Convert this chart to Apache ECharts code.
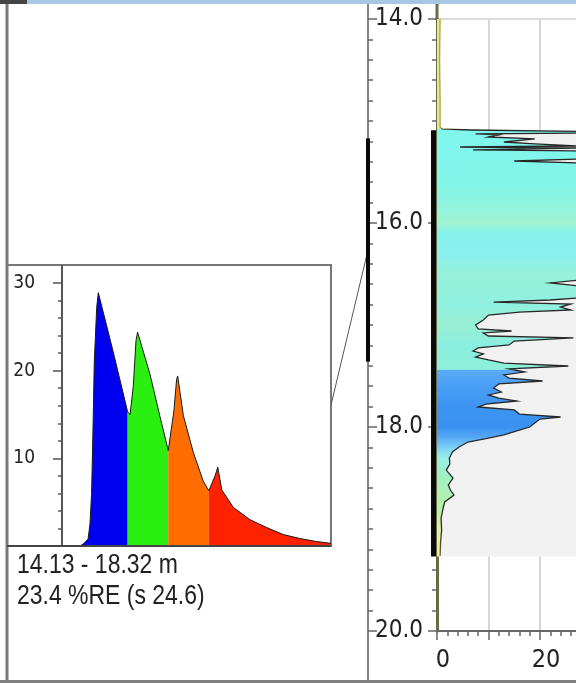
<!DOCTYPE html>
<html><head><meta charset="utf-8">
<script src="https://cdn.jsdelivr.net/npm/echarts@6/dist/echarts.min.js"></script>
<style>html,body{margin:0;padding:0;background:#fff;overflow:hidden}#c{width:576px;height:683px}</style>
</head><body><div id="c"></div>
<script>
const FONT = '"Liberation Sans Narrow","DejaVu Sans Condensed","Arial Narrow",sans-serif';
const FONT_TXT = '"Liberation Sans",Arial,sans-serif';

// ---------- Inset histogram ----------
const histX = [0, 6.7, 8.2, 9.7, 10.4, 11.0, 11.5, 12.0, 12.9, 13.5, 19.0, 24.4,
               25.3, 26.5, 27.5, 28.1, 32.7, 36.4, 39.5,
               40.1, 41.6, 42.6, 43.0, 45.1, 48.8, 52.5, 54.6,
               55.3, 56.9, 57.9, 59.4, 63.7, 69.9, 76.1, 82.3, 88.5, 94.7, 100];
const histY = [0, 0, 0.3, 0.8, 2.5, 6, 13, 21, 27.2, 28.9, 22.2, 15.3,
               15.0, 18.2, 23.4, 24.4, 19.6, 14.8, 10.9,
               10.8, 15.4, 19.0, 19.4, 14.9, 10.7, 7.4, 6.3,
               6.1, 8.0, 9.0, 6.4, 4.4, 3.0, 2.1, 1.3, 0.85, 0.5, 0.3];
const histBreaks = [0, 24.4, 39.5, 54.6, 100];
const histColors = ['#0000f0', '#2aef10', '#ff6c00', '#ff2200'];
const insetTickLabels = [10, 20, 30];
const insetText = ['14.13 - 18.32 m', '23.4 %RE (s 24.6)'];

// ---------- Depth profile ----------
const depth = [14.00, 14.40, 14.79, 15.059, 15.078, 15.088, 15.103, 15.118, 15.127, 15.137,
  15.157, 15.176, 15.206, 15.225, 15.245, 15.255, 15.265, 15.284, 15.294, 15.373, 15.392, 15.412,
  16.559, 16.588, 16.618, 16.735, 16.755, 16.775, 16.794, 16.824, 16.853, 16.873, 16.902, 16.951,
  17.000, 17.039, 17.059, 17.078, 17.108, 17.127, 17.157, 17.196, 17.225, 17.255, 17.284, 17.314,
  17.343, 17.373, 17.402, 17.431, 17.461, 17.490, 17.520, 17.549, 17.578, 17.618, 17.657, 17.686,
  17.716, 17.745, 17.775, 17.804, 17.833, 17.873, 17.902, 17.922, 17.961, 18.000, 18.039, 18.078,
  18.108, 18.147, 18.196, 18.245, 18.304, 18.363, 18.422, 18.500, 18.569, 18.618, 18.667, 18.735,
  18.794, 18.892, 19.010, 19.127, 19.265];
const value = [0.6, 0.5, 0.6, 0.6, 1.0, 6.5, 30, 30, 7.5, 12,
  10, 19, 13, 19, 30, 4.5, 30, 7, 30, 30, 15, 30,
  30, 22, 30, 30, 22, 11, 26, 24, 26, 16, 10, 9,
  7.5, 8, 14.5, 9, 10, 26.5, 15, 14, 8, 7, 9, 7.5,
  10, 13, 25.5, 14, 17, 13, 14, 20.5, 12, 11, 12.5, 10,
  12, 15.5, 9.5, 8, 15, 16, 24, 20, 19, 18, 15.5, 13,
  10, 6, 4.3, 3, 2.4, 2.5, 1.8, 3.1, 2.2, 2.6, 3.3, 1.5,
  1.2, 0.8, 0.9, 0.7, 0.6];
const depthLabels = [14, 16, 18, 20];
const xTickLabels = [0, 20];
const xMinorTicks = [2, 4, 6, 8, 12, 14, 16, 18, 22, 24, 26];
const dataRange = [15.09, 19.27];
const markerRange = [15.17, 17.36];
const fillDepths = [14.0, 15.07, 15.085, 15.6, 15.9, 16.0, 16.1, 16.3, 16.5, 16.8, 17.0, 17.2, 17.435,
  17.445, 17.6, 17.8, 18.0, 18.1, 18.2, 18.3, 18.5, 18.8, 19.0, 19.27];
const fillColors = ['#e6e88e', '#e6e88e', '#80f6ec', '#82f5ea', '#95f4da', '#a2f4cf', '#86f2ea', '#8af0f0',
  '#96f2d8', '#90f0e0', '#98f0d2', '#8aeee0', '#8ef0d8',
  '#5aaaf6', '#4a9ef5', '#3d95f2', '#3a90f0', '#55a8f5', '#7ccff5', '#98eee8', '#a2f0c2', '#b8f0a8', '#e0f0a0', '#eaf09a'];

const Y0 = depthLabels[0], Y1 = depthLabels[depthLabels.length - 1];

function histSeries() {
  const out = [];
  for (let k = 0; k < histBreaks.length - 1; k++) {
    const a = histBreaks[k], b = histBreaks[k + 1];
    const d = [];
    for (let i = 0; i < histX.length; i++) {
      if (histX[i] >= a && histX[i] <= b) d.push([histX[i], histY[i]]);
    }
    out.push({
      type: 'line', xAxisIndex: 0, yAxisIndex: 0, data: d, symbol: 'none', silent: true,
      lineStyle: { color: '#1a1a1a', width: 1 },
      areaStyle: { color: histColors[k], opacity: 1 }, z: 3
    });
  }
  return out;
}

function grad(y0, y1, depths, colors) {
  return {
    type: 'linear', x: 0, y: y0, x2: 0, y2: y1, global: true,
    colorStops: depths.map((d, i) => ({ offset: (d - Y0) / (Y1 - Y0), color: colors[i] }))
  };
}

function renderProfile(params, api) {
  const cs = params.coordSys;
  const xEdge = cs.x + cs.width + 3;
  const pts = [api.coord([0, depth[0]])];
  for (let i = 0; i < depth.length; i++) {
    const p = api.coord([value[i], depth[i]]);
    p[0] = Math.min(p[0], xEdge);
    pts.push(p);
  }
  pts.push(api.coord([0, depth[depth.length - 1]]));
  const ya = api.coord([0, Y0])[1], yb = api.coord([0, Y1])[1];
  const bgA = api.coord([0, dataRange[0]]), bgB = api.coord([0, dataRange[1]]);
  return {
    type: 'group',
    children: [
      { type: 'rect', shape: { x: bgA[0], y: bgA[1], width: xEdge - bgA[0], height: bgB[1] - bgA[1] },
        style: { fill: '#f1f1f1' } },
      { type: 'polygon', shape: { points: pts }, style: { fill: grad(ya, yb, fillDepths, fillColors), stroke: null } },
      { type: 'polyline', shape: { points: pts.slice(1, -1) },
        style: { fill: null, lineWidth: 1.3,
          stroke: grad(ya, yb, [14, 15.07, 15.08, 19.0, 19.27], ['#a4a444', '#a4a444', '#262626', '#2a2a2a', '#6a6a30']) } },
      { type: 'rect', shape: { x: bgA[0] - 6, y: bgA[1], width: 5, height: bgB[1] - bgA[1] },
        style: { fill: '#0a0a0a' } }
    ]
  };
}

function renderMarker(params, api) {
  const a = api.coord([0, markerRange[0]]), b = api.coord([0, markerRange[1]]);
  return { type: 'line', shape: { x1: a[0], y1: a[1], x2: b[0], y2: b[1] }, style: { stroke: '#0a0a0a', lineWidth: 4 } };
}

const chart = echarts.init(document.getElementById('c'), null, { renderer: 'canvas' });
const txt = { fontFamily: FONT, color: '#222' };

const option = {
  animation: false,
  backgroundColor: '#ffffff',
  grid: [
    { left: 62, top: 283, width: 269, height: 263 },
    { left: 437, top: 19, width: 139, height: 612 },
    { left: 368, top: 19, width: 1, height: 612 }
  ],
  xAxis: [
    { gridIndex: 0, type: 'value', min: 0, max: 100, show: false },
    { gridIndex: 1, type: 'value', min: 0, max: 27, interval: 10, position: 'bottom',
      axisLine: { onZero: false, lineStyle: { color: '#666', width: 2 } },
      axisTick: { show: true, customValues: [0, 10, 20], length: 9, lineStyle: { color: '#666', width: 1.5 } },
      axisLabel: { customValues: xTickLabels, fontSize: 25, margin: 17, padding: [0, 0, 0, 12], ...txt },
      splitLine: { show: true, lineStyle: { color: '#d6d6d6', width: 2 } } },
    { gridIndex: 1, type: 'value', min: 0, max: 27, position: 'bottom',
      axisLine: { show: false, onZero: false },
      axisTick: { show: true, customValues: xMinorTicks, length: 5, lineStyle: { color: '#666', width: 1.5 } },
      axisLabel: { show: false }, splitLine: { show: false } },
    { gridIndex: 2, type: 'value', min: 0, max: 1, show: false }
  ],
  yAxis: [
    { gridIndex: 0, type: 'value', min: 0, max: 30, interval: 10, position: 'left',
      axisLine: { show: true, onZero: false, lineStyle: { color: '#555', width: 2 } },
      axisTick: { show: true, length: 9, lineStyle: { color: '#555', width: 1.5 } },
      minorTick: { show: true, splitNumber: 5, length: 4, lineStyle: { color: '#555', width: 1.5 } },
      axisLabel: { fontSize: 19, margin: 27, ...txt,
        formatter: v => (insetTickLabels.indexOf(v) >= 0 ? String(v) : '') },
      splitLine: { show: false } },
    { gridIndex: 1, type: 'value', inverse: true, min: Y0, max: Y1, interval: 2, position: 'left',
      axisLine: { show: true, onZero: false, lineStyle: { color: '#6b6b45', width: 3 } },
      axisTick: { show: true, length: 9, lineStyle: { color: '#666', width: 1.5 } },
      minorTick: { show: true, splitNumber: 10, length: 5, lineStyle: { color: '#666', width: 1.5 } },
      axisLabel: { fontSize: 24, margin: 14, formatter: v => v.toFixed(1), ...txt },
      splitLine: { show: true, lineStyle: { color: '#dcdcdc', width: 2 } } },
    { gridIndex: 2, type: 'value', inverse: true, min: Y0, max: Y1, interval: 2, position: 'left',
      axisLine: { show: true, onZero: false, lineStyle: { color: '#858585', width: 2 } },
      axisTick: { show: true, inside: true, length: 9, lineStyle: { color: '#666', width: 1.5 } },
      minorTick: { show: true, splitNumber: 10, length: 5, lineStyle: { color: '#666', width: 1.5 } },
      axisLabel: { show: false }, splitLine: { show: false } }
  ],
  series: [
    ...histSeries(),
    { type: 'custom', xAxisIndex: 1, yAxisIndex: 1, data: [[0, 17]], renderItem: renderProfile, silent: true, z: 2 },
    { type: 'custom', xAxisIndex: 3, yAxisIndex: 2, data: [[0, 16]], renderItem: renderMarker, silent: true, z: 5 }
  ],
  graphic: [
    { type: 'rect', shape: { x: 0, y: 0, width: 576, height: 4 }, style: { fill: '#a6c6e2' }, z: 10 },
    { type: 'rect', shape: { x: 0, y: 0, width: 27, height: 4 }, style: { fill: '#444' }, z: 11 },
    { type: 'line', shape: { x1: 7, y1: 4, x2: 7, y2: 683 }, style: { stroke: '#7a7a7a', lineWidth: 3 }, z: 10 },
    { type: 'line', shape: { x1: 0, y1: 681.5, x2: 576, y2: 681.5 }, style: { stroke: '#808080', lineWidth: 3 }, z: 10 },
    { type: 'rect', shape: { x: 7, y: 265, width: 324, height: 281 }, style: { fill: null, stroke: '#777', lineWidth: 2 }, z: 1 },
    { type: 'line', shape: { x1: 62, y1: 265, x2: 62, y2: 284 }, style: { stroke: '#555', lineWidth: 2 }, z: 1 },
    { type: 'line', shape: { x1: 7, y1: 546, x2: 331, y2: 546 }, style: { stroke: '#444', lineWidth: 2 }, z: 10 },
    { type: 'line', shape: { x1: 368, y1: 4, x2: 368, y2: 683 }, style: { stroke: '#858585', lineWidth: 2 }, z: 0 },
    { type: 'line', shape: { x1: 437, y1: 4, x2: 437, y2: 20 }, style: { stroke: '#6b6b45', lineWidth: 3 }, z: 0 },
    { type: 'text', x: 17, y: 551, scaleX: 0.82, originX: 0,
      style: { text: insetText[0], fontFamily: FONT_TXT, fontSize: 28, fill: '#222' } },
    { type: 'text', x: 17, y: 582, scaleX: 0.82, originX: 0,
      style: { text: insetText[1], fontFamily: FONT_TXT, fontSize: 28, fill: '#222' } }
  ]
};
chart.setOption(option);

// connector from inset box to the middle of the depth marker
const midDepth = (markerRange[0] + markerRange[1]) / 2;
const my = chart.convertToPixel({ yAxisIndex: 2 }, midDepth);
const mx = chart.convertToPixel({ xAxisIndex: 3 }, 0);
option.graphic.push({ type: 'line', shape: { x1: 331, y1: 405, x2: mx, y2: my }, style: { stroke: '#555', lineWidth: 1 }, z: 4 });
chart.setOption({ graphic: option.graphic });
</script></body></html>
